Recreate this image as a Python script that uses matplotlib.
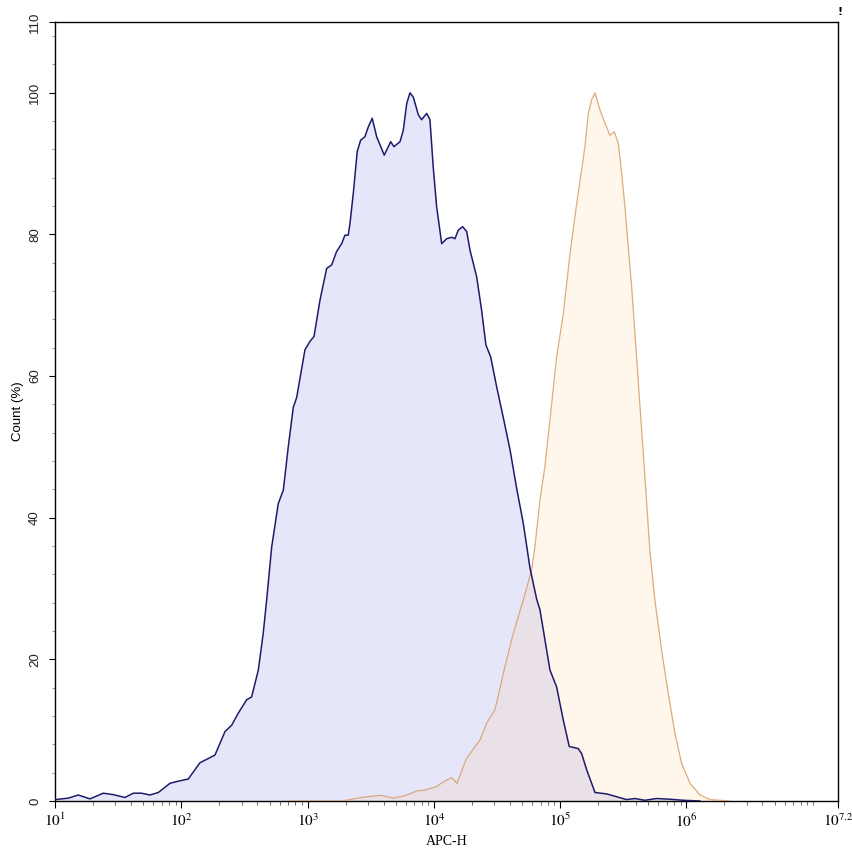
import numpy as np
import matplotlib
matplotlib.use("Agg")
import matplotlib.pyplot as plt
from matplotlib.ticker import FixedLocator, NullFormatter

plt.rcParams['mathtext.fontset'] = 'stix'

# log10 of APC-H intensity, and Count (%)
blue_logx = [1.000, 1.105, 1.184, 1.277, 1.382, 1.462, 1.554, 1.620, 1.686, 1.752,
             1.818, 1.911, 1.976, 2.055, 2.148, 2.214, 2.267, 2.346, 2.399, 2.451,
             2.518, 2.557, 2.610, 2.649, 2.676, 2.716, 2.768, 2.808, 2.847, 2.887,
             2.914, 2.979, 3.019, 3.051, 3.098, 3.151, 3.191, 3.230, 3.270, 3.296,
             3.322, 3.336, 3.362, 3.393, 3.420, 3.454, 3.481, 3.512, 3.547, 3.607,
             3.658, 3.684, 3.732, 3.758, 3.785, 3.811, 3.837, 3.877, 3.903, 3.943,
             3.969, 3.995, 4.022, 4.062, 4.101, 4.141, 4.167, 4.193, 4.228, 4.260,
             4.286, 4.339, 4.378, 4.412, 4.450, 4.497, 4.549, 4.603, 4.656, 4.708,
             4.761, 4.814, 4.840, 4.919, 4.972, 5.025, 5.072, 5.143, 5.170, 5.210,
             5.276, 5.368, 5.447, 5.526, 5.592, 5.671, 5.764, 5.869, 5.975, 6.107]
blue_count = [0.2, 0.4, 0.85, 0.3, 1.1, 0.9, 0.5, 1.1, 1.1, 0.85,
              1.2, 2.5, 2.8, 3.1, 5.4, 6.0, 6.5, 9.8, 10.7, 12.4,
              14.3, 14.7, 18.5, 23.7, 28.4, 35.9, 42.0, 43.9, 50.0, 55.6,
              57.0, 63.7, 64.9, 65.6, 70.7, 75.2, 75.7, 77.6, 78.7, 79.9,
              79.9, 81.6, 85.8, 91.7, 93.3, 93.8, 95.2, 96.4, 93.8, 91.2,
              93.1, 92.4, 93.1, 94.7, 98.5, 100.0, 99.4, 96.9, 96.2, 97.1,
              96.2, 89.5, 83.9, 78.7, 79.4, 79.6, 79.4, 80.6, 81.1, 80.4,
              77.8, 74.0, 69.3, 64.4, 62.7, 58.5, 54.2, 49.6, 44.1, 39.2,
              32.9, 28.5, 27.0, 18.5, 16.1, 11.4, 7.7, 7.4, 6.7, 4.4,
              1.2, 1.0, 0.6, 0.2, 0.35, 0.1, 0.35, 0.25, 0.1, 0.0]

orange_logx = [2.861, 2.995, 3.272, 3.443, 3.581, 3.680, 3.778, 3.861, 3.930, 4.015,
               4.085, 4.141, 4.183, 4.222, 4.253, 4.310, 4.365, 4.418, 4.484, 4.563,
               4.629, 4.708, 4.774, 4.800, 4.840, 4.879, 4.919, 4.972, 5.025, 5.078,
               5.131, 5.170, 5.196, 5.223, 5.249, 5.276, 5.315, 5.355, 5.394, 5.428,
               5.460, 5.487, 5.513, 5.539, 5.566, 5.592, 5.618, 5.645, 5.671, 5.710,
               5.750, 5.803, 5.856, 5.909, 5.962, 6.028, 6.107, 6.186, 6.265, 6.344]
orange_count = [0.0, 0.0, 0.0, 0.55, 0.8, 0.4, 0.8, 1.4, 1.55, 2.0,
                2.8, 3.3, 2.5, 4.3, 5.8, 7.3, 8.6, 11.0, 12.9, 19.0,
                23.7, 28.4, 32.6, 35.9, 42.5, 47.2, 53.8, 62.7, 68.8, 77.3,
                84.4, 89.1, 92.4, 97.1, 99.0, 100.0, 97.6, 95.7, 94.0, 94.5,
                92.9, 88.6, 83.9, 78.3, 72.6, 66.0, 59.4, 52.4, 45.8, 35.4,
                28.4, 21.3, 15.2, 9.5, 5.3, 2.5, 0.85, 0.2, 0.1, 0.0]

y_ticks = [0, 20, 40, 60, 80, 100, 110]
x_decades = [1, 2, 3, 4, 5, 6]
x_max_exp = 7.2

fig = plt.figure(figsize=(8.53, 8.56), dpi=100)
ax = fig.add_axes([55/853, 1-801/856, (838-55)/853, (801-22)/856])

bx = 10 ** np.array(blue_logx)
ox = 10 ** np.array(orange_logx)

ax.fill_between(bx, 0, blue_count, color='#e6e6fa', lw=0, zorder=1)
ax.fill_between(ox, 0, orange_count, color=(1.0, 0.80, 0.55), alpha=0.16, lw=0, zorder=2)
ax.plot(ox, orange_count, color=(0.84, 0.6, 0.36), alpha=0.8, lw=0.9, zorder=3)
ax.plot(bx, blue_count, color='#1c1c6a', lw=1.1, zorder=4)

ax.set_xscale('log')
ax.set_xlim(10 ** 1, 10 ** x_max_exp)
ax.set_ylim(0, 110)

major_x = [10.0 ** d for d in x_decades] + [10 ** x_max_exp]
ax.xaxis.set_major_locator(FixedLocator(major_x))
ax.set_xticklabels([r'$10^{%d}$' % d for d in x_decades] + [r'$10^{7.2}$'])
minor_x = [m * 10.0 ** d for d in x_decades for m in range(2, 10)] + [1e7]
ax.xaxis.set_minor_locator(FixedLocator(minor_x))
ax.xaxis.set_minor_formatter(NullFormatter())

ax.set_yticks(y_ticks)
ax.set_yticklabels([str(v) for v in y_ticks], rotation=90, va='center',
                   family='Liberation Sans', fontsize=9.5, color='#222222')
ax.yaxis.set_minor_locator(FixedLocator([v for v in range(0, 111, 4)]))

ax.tick_params(axis='x', which='major', length=5, width=0.8, labelsize=11, pad=3)
ax.tick_params(axis='x', which='minor', length=3, width=0.6, color='#555555')
ax.tick_params(axis='y', which='major', length=4, width=0.8, pad=6)
ax.tick_params(axis='y', which='minor', length=2.5, width=0.6, color='#888888')

for s in ax.spines.values():
    s.set_linewidth(1.0)
    s.set_color('black')

ax.set_xlabel('APC-H', family='Liberation Serif', fontsize=10, labelpad=4)
ax.set_ylabel('Count (%)', family='Liberation Sans', fontsize=9.5, labelpad=4)

fig.text(840/853, 1-12/856, '!', fontsize=8, fontweight='bold', ha='center', va='center')

fig.savefig('out.png', dpi=100)
